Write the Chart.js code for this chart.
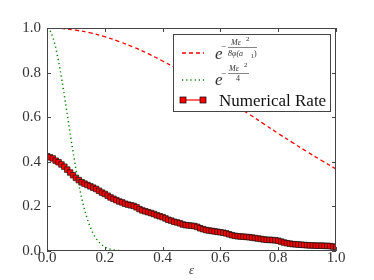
<!DOCTYPE html>
<html>
<head>
<meta charset="utf-8">
<script src="https://cdn.jsdelivr.net/npm/chart.js@4"></script>
<style>
  html, body { margin: 0; padding: 0; background: #fff; }
  canvas { display: block; }
</style>
</head>
<body>
<canvas id="chart" width="374" height="280"></canvas>
<script>
// x positions (epsilon) and series values
const boundX = [0, 0.05, 0.1, 0.15, 0.2, 0.25, 0.3, 0.35, 0.4, 0.45, 0.5,
  0.55, 0.6, 0.65, 0.7, 0.75, 0.8, 0.85, 0.9, 0.95, 1.0];
const boundY = [1.0, 0.998, 0.990, 0.978, 0.961, 0.939, 0.914, 0.885, 0.852, 0.817, 0.779,
  0.739, 0.698, 0.655, 0.613, 0.570, 0.527, 0.486, 0.445, 0.406, 0.368];

const fastX = [0, 0.01, 0.02, 0.03, 0.04, 0.05, 0.06, 0.07, 0.08, 0.09, 0.10,
  0.11, 0.12, 0.13, 0.14, 0.15, 0.16, 0.17, 0.18, 0.19, 0.20,
  0.21, 0.22, 0.23, 0.24, 0.25, 0.26, 0.27, 1.0];
const fastY = [1.0, 0.990, 0.961, 0.914, 0.852, 0.779, 0.698, 0.613, 0.527, 0.445, 0.368,
  0.298, 0.237, 0.185, 0.141, 0.105, 0.077, 0.056, 0.039, 0.027, 0.018,
  0.012, 0.008, 0.005, 0.003, 0.002, 0.001, 0, 0];

// numerical rate, one point every 0.01
const rateY = [
  0.425, 0.420, 0.415, 0.405, 0.398, 0.388, 0.378, 0.365, 0.352, 0.340,
  0.328, 0.318, 0.308, 0.302, 0.296, 0.290, 0.284, 0.278, 0.270, 0.262,
  0.256, 0.248, 0.240, 0.234, 0.228, 0.222, 0.218, 0.212, 0.208, 0.205,
  0.202, 0.196, 0.188, 0.182, 0.178, 0.174, 0.170, 0.166, 0.160, 0.156,
  0.152, 0.146, 0.140, 0.136, 0.131, 0.128, 0.124, 0.119, 0.116, 0.115,
  0.113, 0.112, 0.108, 0.102, 0.098, 0.094, 0.092, 0.090, 0.088, 0.086,
  0.084, 0.082, 0.079, 0.075, 0.071, 0.068, 0.066, 0.065, 0.064, 0.063,
  0.062, 0.060, 0.058, 0.056, 0.054, 0.052, 0.050, 0.050, 0.049, 0.048,
  0.046, 0.042, 0.038, 0.035, 0.033, 0.031, 0.030, 0.029, 0.028, 0.027,
  0.026, 0.025, 0.025, 0.024, 0.024, 0.024, 0.023, 0.023, 0.022, 0.020,
  0.018
];
const rateX = rateY.map((v, i) => i / 100);

const tickVals = [0, 0.2, 0.4, 0.6, 0.8, 1.0];

const RED = "#ff0000";
const GREEN = "#008000";
const SERIF = '"Liberation Serif", "DejaVu Serif", serif';

function pts(xs, ys) {
  return xs.map((x, i) => ({ x: x, y: ys[i] }));
}

/* frame, inward ticks and the legend box */
const framePlugin = {
  id: "frame",
  afterDraw(c) {
    const ctx = c.ctx;
    const a = c.chartArea;
    const sx = c.scales.x, sy = c.scales.y;
    ctx.save();
    ctx.strokeStyle = "#444";
    ctx.lineWidth = 1;
    ctx.strokeRect(a.left + 0.5, a.top + 0.5, a.right - a.left - 1, a.bottom - a.top - 1);
    ctx.beginPath();
    tickVals.forEach(v => {
      const px = Math.round(sx.getPixelForValue(v)) + 0.5;
      ctx.moveTo(px, a.bottom); ctx.lineTo(px, a.bottom - 4);
      ctx.moveTo(px, a.top); ctx.lineTo(px, a.top + 4);
      const py = Math.round(sy.getPixelForValue(v)) + 0.5;
      ctx.moveTo(a.left, py); ctx.lineTo(a.left + 4, py);
      ctx.moveTo(a.right, py); ctx.lineTo(a.right - 4, py);
    });
    ctx.stroke();

    // legend
    const L = 173, T = 34, W = 157, H = 77;
    ctx.fillStyle = "#fff";
    ctx.fillRect(L, T, W, H);
    ctx.strokeStyle = "#444";
    ctx.strokeRect(L + 0.5, T + 0.5, W, H);

    ctx.lineWidth = 1.3;
    ctx.strokeStyle = RED;
    ctx.setLineDash([4, 3]);
    ctx.beginPath(); ctx.moveTo(182, 53); ctx.lineTo(204, 53); ctx.stroke();

    ctx.strokeStyle = GREEN;
    ctx.lineWidth = 1.5;
    ctx.setLineDash([1.2, 3]);
    ctx.beginPath(); ctx.moveTo(182, 80); ctx.lineTo(204, 80); ctx.stroke();

    ctx.setLineDash([]);
    ctx.strokeStyle = RED;
    ctx.lineWidth = 1.2;
    ctx.beginPath(); ctx.moveTo(183, 100); ctx.lineTo(203, 100); ctx.stroke();
    ctx.fillStyle = RED;
    ctx.strokeStyle = "#000";
    ctx.lineWidth = 0.7;
    [183, 203].forEach(x => {
      ctx.fillRect(x - 3, 97, 6, 6);
      ctx.strokeRect(x - 3, 97, 6, 6);
    });

    // formulas
    ctx.fillStyle = "#333";
    ctx.textBaseline = "alphabetic";
    ctx.textAlign = "left";
    ctx.font = "italic 17px " + SERIF;
    ctx.fillText("e", 215, 59);
    ctx.fillText("e", 215, 85);

    ctx.font = "9px " + SERIF;
    ctx.fillText("\u2212", 221, 49);
    ctx.fillText("\u2212", 221, 76);
    ctx.font = "italic 8px " + SERIF;
    ctx.fillText("M\u03b5", 231, 45);
    ctx.fillText("8\u03c6(a", 228, 56);
    ctx.fillText("M\u03b5", 229, 71);
    ctx.font = "7px " + SERIF;
    ctx.fillText("2", 246, 41);
    ctx.fillText("1", 250.5, 57.5);
    ctx.fillText("2", 244, 67);
    ctx.font = "8px " + SERIF;
    ctx.fillText(")", 254, 56);
    ctx.fillText("4", 236, 81);
    ctx.strokeStyle = "#333";
    ctx.lineWidth = 0.6;
    ctx.beginPath();
    ctx.moveTo(228, 47.5); ctx.lineTo(257, 47.5);
    ctx.moveTo(228, 73.5); ctx.lineTo(249, 73.5);
    ctx.stroke();

    ctx.fillStyle = "#111";
    ctx.font = "17px " + SERIF;
    ctx.fillText("Numerical Rate", 219, 106);
    ctx.restore();
  }
};

const tickFont = { family: SERIF, size: 15 };

new Chart(document.getElementById("chart"), {
  type: "line",
  data: {
    datasets: [
      {
        data: pts(rateX, rateY),
        borderColor: RED,
        borderWidth: 1,
        pointStyle: "rect",
        pointRadius: 3.9,
        pointBackgroundColor: RED,
        pointBorderColor: "#111",
        pointBorderWidth: 0.7,
        order: 3
      },
      {
        data: pts(boundX, boundY),
        borderColor: RED,
        borderWidth: 1.3,
        borderDash: [4, 3],
        pointRadius: 0,
        tension: 0.4,
        order: 2
      },
      {
        data: pts(fastX, fastY),
        borderColor: GREEN,
        borderWidth: 1.5,
        borderDash: [1.2, 3],
        pointRadius: 0,
        order: 1
      }
    ]
  },
  options: {
    responsive: false,
    animation: false,
    layout: { padding: { top: 28, right: 38, left: 0, bottom: 0 } },
    plugins: {
      legend: { display: false },
      tooltip: { enabled: false }
    },
    scales: {
      x: {
        type: "linear",
        min: 0,
        max: 1,
        afterFit: s => { s.height = 29; },
        afterBuildTicks: s => { s.ticks = tickVals.map(v => ({ value: v })); },
        ticks: {
          font: tickFont,
          color: "#333",
          padding: -2,
          maxRotation: 0,
          callback: v => v.toFixed(1)
        },
        grid: { display: false, drawTicks: false, tickLength: 0 },
        border: { display: false },
        title: {
          display: true,
          text: "\u03b5",
          color: "#333",
          font: { family: SERIF, size: 13, style: "italic" },
          padding: { top: 0, bottom: 2 }
        }
      },
      y: {
        type: "linear",
        min: 0,
        max: 1,
        afterFit: s => { s.width = 47; },
        afterBuildTicks: s => { s.ticks = tickVals.map(v => ({ value: v })); },
        ticks: {
          font: tickFont,
          color: "#333",
          padding: 6,
          callback: v => v.toFixed(1)
        },
        grid: { display: false, drawTicks: false, tickLength: 0 },
        border: { display: false }
      }
    }
  },
  plugins: [framePlugin]
});
</script>
</body>
</html>
